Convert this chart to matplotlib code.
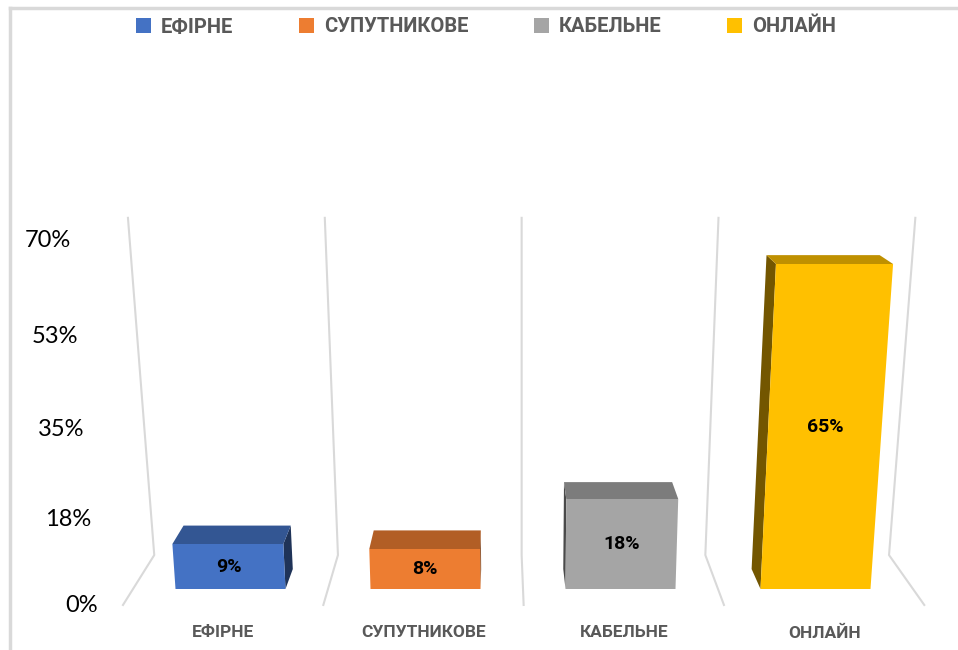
import matplotlib.pyplot as plt
from matplotlib.patches import Polygon, Patch
from matplotlib.lines import Line2D
from matplotlib.colors import to_rgb

categories = ['ЕФІРНЕ', 'СУПУТНИКОВЕ', 'КАБЕЛЬНЕ', 'ОНЛАЙН']
values = [9, 8, 18, 65]
colors = ['#4472C4', '#ED7D31', '#A5A5A5', '#FFC000']
tick_values = [0, 17.5, 35, 52.5, 70]
tick_labels = ['0%', '18%', '35%', '53%', '70%']

# fake 3d perspective (x in category units, y in percent, d = depth)
MID = 1.5
VP_X, VP_Y = 1.38, 117.0
DEPTH_K = 0.031
SPREAD = 0.001
BAR_HALF = 0.282
FLOOR_FRONT, FLOOR_BACK = -0.88, 1.87
WALL_TOP = 71.6

BOLD = ['Roboto', 'DejaVu Sans']
LABEL_GRAY = '#595959'
GRID = '#d9d9d9'


def proj(x, y, d=0.0):
    xf = MID + (x - MID) * (1 + SPREAD * y)
    t = d * DEPTH_K
    return xf + t * (VP_X - xf), y + t * (VP_Y - y)


def wall_label_pos(v):
    # value labels sit on the left wall, which widens a little going up
    return MID + (98 - 523) / 195 - v * 0.00198, -3.4 + 0.977 * v + 0.00098 * v * v


def shade(c, f):
    r, g, b = to_rgb(c)
    return (r * f, g * f, b * f)


fig = plt.figure(figsize=(9.58, 6.5), dpi=100)
ax = fig.add_axes([0, 0, 1, 1])
ax.set_xlim(MID - 523 / 195, MID + 435 / 195)
ax.set_ylim(-61 / 5, 589 / 5)
ax.axis('off')

# walls / floor separators
for b in [-0.5, 0.5, 1.5, 2.5, 3.5]:
    pts = [proj(b, 0, FLOOR_FRONT), proj(b, 0, FLOOR_BACK), proj(b, WALL_TOP, FLOOR_BACK)]
    ax.plot([p[0] for p in pts], [p[1] for p in pts], color=GRID, lw=1.5, zorder=1)

# bars
for i, (v, c) in enumerate(zip(values, colors)):
    x0, x1 = i - BAR_HALF, i + BAR_HALF
    sx = x1 if i < VP_X else x0
    side = [proj(sx, 0), proj(sx, v), proj(sx, v, 1.1), proj(sx, 0, 1.1)]
    top = [proj(x0, v), proj(x1, v), proj(x1, v, 1.1), proj(x0, v, 1.1)]
    front = [proj(x0, 0), proj(x1, 0), proj(x1, v), proj(x0, v)]
    ax.add_patch(Polygon(side, closed=True, facecolor=shade(c, 0.45), edgecolor='none', zorder=2))
    ax.add_patch(Polygon(top, closed=True, facecolor=shade(c, 0.75), edgecolor='none', zorder=3))
    ax.add_patch(Polygon(front, closed=True, facecolor=c, edgecolor='none', zorder=4))
    cx, cy = proj(i, v / 2)
    ax.text(cx, cy, f'{v}%', ha='center', va='center', fontsize=14,
            fontweight='bold', family=BOLD, color='black', zorder=5)
    lx, ly = proj(i, 0, FLOOR_FRONT)
    ax.text(lx, ly - 5.6, categories[i], ha='center', va='center', fontsize=12.5,
            fontweight='bold', family=BOLD, color=LABEL_GRAY)

# value axis labels on the side wall
for v, lab in zip(tick_values, tick_labels):
    tx, ty = wall_label_pos(v)
    ax.text(tx, ty, lab, ha='right', va='center', fontsize=17,
            family=['Lato', 'DejaVu Sans'], color='black')

# chart frame
fig.add_artist(Line2D([10 / 958, 10 / 958], [0, 1 - 8 / 650], color=GRID, lw=2.5, transform=fig.transFigure))
fig.add_artist(Line2D([10 / 958, 1], [1 - 8 / 650, 1 - 8 / 650], color=GRID, lw=2.5, transform=fig.transFigure))

handles = [Patch(facecolor=c, edgecolor='none') for c in colors]
fig.legend(handles, categories, loc='center', bbox_to_anchor=(486 / 958, 1 - 27 / 650), ncol=4,
           frameon=False, handlelength=0.75, handleheight=0.75, handletextpad=0.5, columnspacing=3.25,
           labelcolor=LABEL_GRAY, prop={'family': BOLD, 'weight': 'bold', 'size': 14.5})

fig.savefig('out.png', dpi=100)
